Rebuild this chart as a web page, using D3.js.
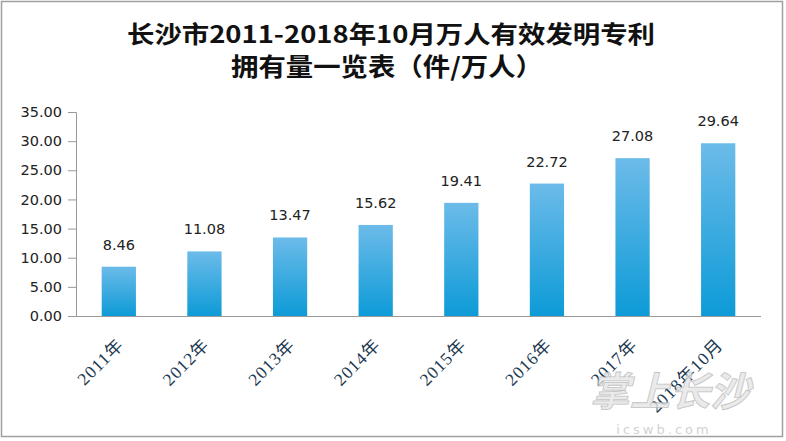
<!DOCTYPE html>
<html><head><meta charset="utf-8">
<script src="https://cdn.jsdelivr.net/npm/d3@7"></script>
<style>body{margin:0;background:#fff}svg{display:block}</style>
</head><body>
<script>
const titleLines = ["长沙市2011-2018年10月万人有效发明专利", "拥有量一览表（件/万人）"];
const categories = ["2011年","2012年","2013年","2014年","2015年","2016年","2017年","2018年10月"];
const values = [8.46, 11.08, 13.47, 15.62, 19.41, 22.72, 27.08, 29.64];
const yTicks = [0,5,10,15,20,25,30,35];

const W = 786, H = 441;
const svg = d3.select("body").append("svg").attr("width", W).attr("height", H);
svg.append("rect").attr("x",1.5).attr("y",1.5).attr("width",781).attr("height",435)
  .attr("fill","#fff").attr("stroke","#a0a0a0").attr("stroke-width",1.5);

const defs = svg.append("defs");
const g1 = defs.append("linearGradient").attr("id","barg").attr("x1",0).attr("y1",0).attr("x2",0).attr("y2",1);
g1.append("stop").attr("offset","0%").attr("stop-color","#6cbbe9");
g1.append("stop").attr("offset","100%").attr("stop-color","#0d9bd7");

const title = svg.append("g").attr("font-family","'Noto Sans CJK SC', sans-serif").attr("font-weight","bold")
  .attr("fill","#111").attr("text-anchor","middle");
title.append("text").attr("x",391).attr("y",43).attr("font-size",24).attr("textLength",528).attr("lengthAdjust","spacingAndGlyphs").text(titleLines[0]);
title.append("text").attr("x",387).attr("y",76).attr("font-size",25).attr("textLength",312).attr("lengthAdjust","spacingAndGlyphs").text(titleLines[1]);

const x = d3.scaleBand().domain(categories).range([76, 761]).paddingInner(0.6).paddingOuter(0.3);
const y = d3.scaleLinear().domain([0,35]).range([316, 112]);

const yAxis = svg.append("g").attr("transform","translate(76,0)")
  .call(d3.axisLeft(y).tickValues(yTicks).tickFormat(d3.format(".2f")).tickSize(8).tickPadding(6));
yAxis.select(".domain").attr("stroke","#999").attr("d","M-8,112.5H0.5V316.5");
yAxis.selectAll(".tick line").attr("stroke","#999");
yAxis.selectAll(".tick text").attr("font-family","'DejaVu Sans', sans-serif").attr("font-size",14.5).attr("fill","#222");

const xAxis = svg.append("g").attr("transform","translate(0,316)")
  .call(d3.axisBottom(x).tickSize(0).tickPadding(0));
xAxis.select(".domain").attr("stroke","#999").attr("d","M76,0.5H761");
xAxis.selectAll(".tick text")
  .attr("font-family","'Liberation Serif', 'Noto Sans CJK SC', serif").attr("font-size",17.5).attr("letter-spacing",1).attr("fill","#1d3a52")
  .attr("text-anchor","end").attr("dy",0)
  .attr("transform","translate(6,30) rotate(-45)");

svg.append("g").selectAll("rect").data(values).join("rect")
  .attr("x",(d,i)=>x(categories[i])).attr("width",x.bandwidth())
  .attr("y",d=>y(d)).attr("height",d=>y(0)-y(d)).attr("fill","url(#barg)");

svg.append("g").selectAll("text").data(values).join("text")
  .attr("x",(d,i)=>x(categories[i])+x.bandwidth()/2).attr("y",d=>y(d)-17)
  .attr("text-anchor","middle").attr("font-family","'DejaVu Sans', sans-serif").attr("font-size",14.5).attr("fill","#222")
  .text(d=>d3.format(".2f")(d));

const wm = svg.append("g").attr("opacity",0.8);
wm.append("text").attr("x",670).attr("y",406).attr("text-anchor","middle")
  .attr("font-family","'Noto Sans CJK SC', sans-serif").attr("font-weight","bold").attr("font-style","italic")
  .attr("font-size",40).attr("fill","#e6e6e6").attr("stroke","#b5b5b5").attr("stroke-width",0.8).text("掌上长沙");
wm.append("text").attr("x",664).attr("y",434).attr("text-anchor","middle")
  .attr("font-family","'DejaVu Sans', sans-serif").attr("font-size",13).attr("letter-spacing",3).attr("fill","#c8c8c8").text("icswb.com");
</script>
</body></html>
